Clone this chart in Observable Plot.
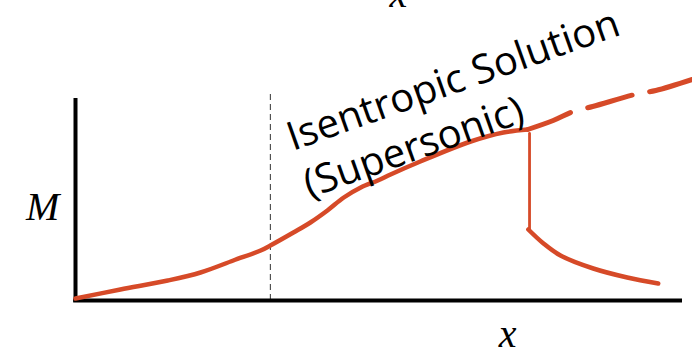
<!DOCTYPE html>
<html>
<head>
<meta charset="utf-8">
<script src="https://cdn.jsdelivr.net/npm/d3@7"></script>
<script src="https://cdn.jsdelivr.net/npm/@observablehq/plot@0.6"></script>
<style>
  html, body { margin: 0; padding: 0; background: #ffffff; }
  #chart svg { display: block; }
</style>
</head>
<body>
<div id="chart"></div>
<script>
// Supersonic isentropic branch (solid), x position vs Mach number (arbitrary units)
const superX = [0, 7.4, 15.2, 20.6, 26, 30.5, 32.1, 35.9, 38.7, 41.5, 44.2, 47, 49.8, 51.9, 56.8, 65.1, 70.5, 74.5];
const superM = [1, 5.5, 10, 14, 20, 25, 27.5, 34, 39, 45, 51.5, 56.5, 60, 63, 69.5, 79.5, 84, 85.5];
// Continuation of the isentropic solution past the shock (dashed)
const contX = [74.5, 78.7, 82, 85.2, 92.8, 95.6, 101.6];
const contM = [85.5, 90, 94.5, 97, 103.5, 105, 110.5];
// Normal shock jump
const shockX = [74.8, 74.8];
const shockM = [83.5, 35.5];
// Subsonic branch after the shock
const subX = [74.6, 77.1, 79.9, 85.3, 90.9, 96];
const subM = [35.5, 28.5, 22.5, 16, 11.5, 8.5];
// Throat (dashed vertical marker)
const throatX = [32.1];
const throatTop = [104];
// Annotation
const noteText = ["Isentropic Solution\n(Supersonic)"];
const noteX = [33.85];
const noteM = [91.5];
// Axis labels
const axisLabels = ["M", "x", "x"];
const axisLabelX = [-5.4, 71.2, 53.2];
const axisLabelM = [46.5, -17, 153];

const red = "#d64a28";
const toPts = (xs, ys) => xs.map((x, i) => ({x, M: ys[i]}));

const chart = Plot.plot({
  width: 692,
  height: 355,
  marginLeft: 75,
  marginRight: 10,
  marginTop: 100,
  marginBottom: 55,
  x: {domain: [0, 100], axis: null},
  y: {domain: [0, 100], axis: null},
  style: {background: "#ffffff", fontFamily: "Open Sans", overflow: "visible"},
  marks: [
    Plot.ruleX(throatX, {x: d => d, y1: 0, y2: (d, i) => throatTop[i], stroke: "#333", strokeWidth: 1, strokeDasharray: "6,4"}),
    Plot.ruleX([0], {y1: -1, y2: 101, stroke: "#000", strokeWidth: 4}),
    Plot.ruleY([0], {x1: -0.3, x2: 100, stroke: "#000", strokeWidth: 4}),
    Plot.line(toPts(contX, contM), {x: "x", y: "M", stroke: red, strokeWidth: 5, curve: "catmull-rom", strokeDasharray: "46,18"}),
    Plot.line(toPts(superX, superM), {x: "x", y: "M", stroke: red, strokeWidth: 4.5, curve: "catmull-rom"}),
    Plot.line(toPts(shockX, shockM), {x: "x", y: "M", stroke: red, strokeWidth: 2.8}),
    Plot.line(toPts(subX, subM), {x: "x", y: "M", stroke: red, strokeWidth: 4.5, curve: "catmull-rom"}),
    Plot.text(noteText, {x: (d, i) => noteX[i], y: (d, i) => noteM[i], text: d => d, rotate: -19.5, textAnchor: "start", lineAnchor: "top", lineHeight: 1.25, fontSize: 40, fontFamily: "Open Sans", fill: "#000"}),
    Plot.text(axisLabels, {x: (d, i) => axisLabelX[i], y: (d, i) => axisLabelM[i], text: d => d, fontSize: 40, fontStyle: "italic", fontFamily: "Liberation Serif", fill: "#000"})
  ]
});
document.getElementById("chart").appendChild(chart);
</script>
</body>
</html>
